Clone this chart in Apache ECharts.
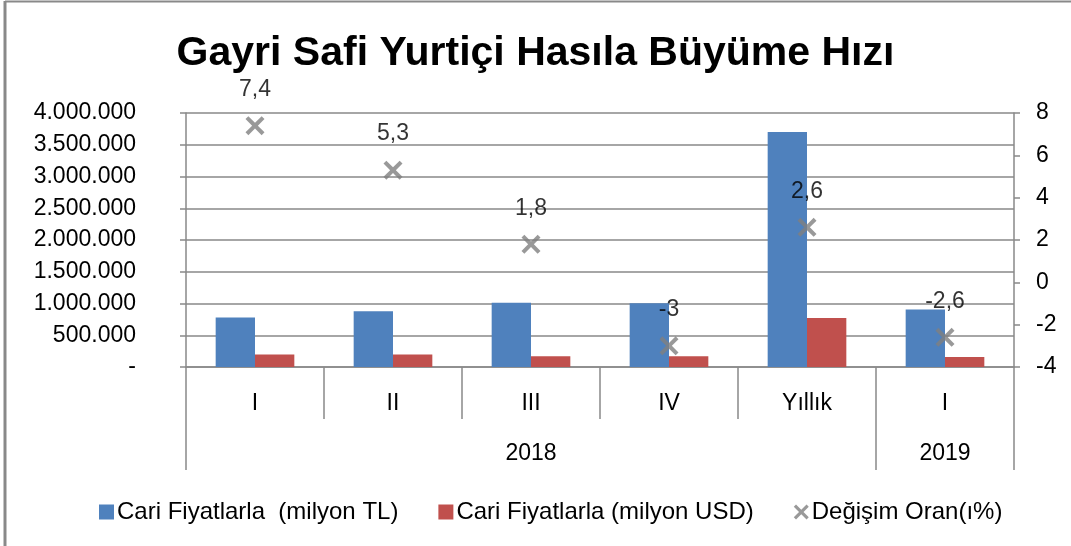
<!DOCTYPE html>
<html>
<head>
<meta charset="utf-8">
<script src="https://cdn.jsdelivr.net/npm/echarts@6/dist/echarts.min.js"></script>
<style>
  html, body { margin: 0; padding: 0; background: #fff; }
  #chart { width: 1071px; height: 546px; }
</style>
</head>
<body>
<div id="chart"></div>
<script>
// quarters and the two year groups under them
var categories = ['I', 'II', 'III', 'IV', 'Yıllık', 'I']
var yearNames = ['2018', '2019']
var yearSpans = [5, 1]

var tlValues = [781000, 879000, 1010000, 1002000, 3701000, 906000]
var usdValues = [197000, 196000, 170000, 169000, 773000, 159000]
var rateValues = [7.4, 5.3, 1.8, -3, 2.6, -2.6]

var seriesNames = ['Cari Fiyatlarla  (milyon TL)', 'Cari Fiyatlarla (milyon USD)', 'Değişim Oran(ı%)']

var FONT = 'Liberation Sans'
var GRAY = '#898989'
var XPATH = 'path://M3,0 L10,7 L17,0 L20,3 L13,10 L20,17 L17,20 L10,13 L3,20 L0,17 L7,10 L0,3 Z'

// boundaries and centres of the year groups (in category units)
var yearTicks = [0]
var yearCenters = []
var acc = 0
yearSpans.forEach(function(s) {
  yearCenters.push(acc + s / 2)
  acc += s
  yearTicks.push(acc)
})

function fmtThousands(v) {
  if (v === 0) { return '-' }
  return String(v).replace(/\B(?=(\d{3})+(?!\d))/g, '.')
}

var chart = echarts.init(document.getElementById('chart'))
chart.setOption({
  animation: false,
  backgroundColor: '#fff',
  textStyle: { fontFamily: FONT, color: '#000' },
  title: {
    text: 'Gayri Safi Yurtiçi Hasıla Büyüme Hızı',
    left: 'center',
    top: 28,
    textStyle: { fontFamily: FONT, fontSize: 41, fontWeight: 'bold', color: '#000' }
  },
  graphic: [
    { type: 'line', shape: { x1: 5, y1: 1, x2: 5, y2: 546 }, style: { stroke: GRAY, lineWidth: 3 } },
    { type: 'line', shape: { x1: 5, y1: 1.5, x2: 1071, y2: 1.5 }, style: { stroke: GRAY, lineWidth: 2 } }
  ],
  legend: {
    top: 495,
    left: 94,
    itemWidth: 15,
    itemHeight: 15,
    itemGap: 40,
    textStyle: { fontFamily: FONT, fontSize: 24, color: '#000', padding: [0, 0, 0, -2] },
    data: [
      { name: seriesNames[0], icon: 'rect' },
      { name: seriesNames[1], icon: 'rect' },
      { name: seriesNames[2], icon: XPATH }
    ]
  },
  grid: { left: 186, right: 57, top: 113, bottom: 179 },
  xAxis: [
    {
      type: 'category',
      data: categories,
      axisLine: { onZero: false, lineStyle: { color: GRAY, width: 1.5 } },
      axisTick: { show: true, interval: 0, length: 52, lineStyle: { color: GRAY, width: 1.5 } },
      axisLabel: { interval: 0, margin: 25, fontSize: 23, color: '#000', fontFamily: FONT }
    },
    {
      type: 'value',
      position: 'bottom',
      min: 0,
      max: categories.length,
      axisLine: { show: false, onZero: false },
      splitLine: { show: false },
      axisTick: { show: true, customValues: yearTicks, length: 103, lineStyle: { color: GRAY, width: 1.5 } },
      axisLabel: {
        customValues: yearCenters,
        margin: 75,
        fontSize: 23,
        color: '#000',
        fontFamily: FONT,
        formatter: function(v) { return yearNames[yearCenters.indexOf(v)] }
      }
    }
  ],
  yAxis: [
    {
      type: 'value',
      min: 0,
      max: 4000000,
      interval: 500000,
      axisLine: { show: true, lineStyle: { color: GRAY, width: 1.5 } },
      axisTick: { show: true, length: 6, lineStyle: { color: GRAY, width: 1.5 } },
      splitLine: { lineStyle: { color: GRAY, width: 1.5 } },
      axisLabel: { margin: 50, fontSize: 23, color: '#000', fontFamily: FONT, formatter: fmtThousands }
    },
    {
      type: 'value',
      min: -4,
      max: 8,
      interval: 2,
      position: 'right',
      axisLine: { show: true, lineStyle: { color: GRAY, width: 1.5 } },
      axisTick: { show: true, length: 6, lineStyle: { color: GRAY, width: 1.5 } },
      splitLine: { show: false },
      axisLabel: { margin: 22, fontSize: 23, color: '#000', fontFamily: FONT }
    }
  ],
  series: [
    {
      name: seriesNames[0],
      type: 'bar',
      data: tlValues,
      barGap: '0%',
      barCategoryGap: '43%',
      itemStyle: { color: '#4F81BD' }
    },
    {
      name: seriesNames[1],
      type: 'bar',
      data: usdValues,
      itemStyle: { color: '#C0504D' }
    },
    {
      name: seriesNames[2],
      type: 'scatter',
      yAxisIndex: 1,
      data: rateValues,
      symbol: XPATH,
      symbolSize: 19,
      itemStyle: { color: '#808080' },
      z: 5,
      label: {
        show: true,
        position: 'top',
        distance: 15,
        fontSize: 23,
        color: '#000',
        fontFamily: FONT,
        formatter: function(p) { return String(p.value).replace('.', ',') }
      }
    }
  ]
})
</script>
</body>
</html>
